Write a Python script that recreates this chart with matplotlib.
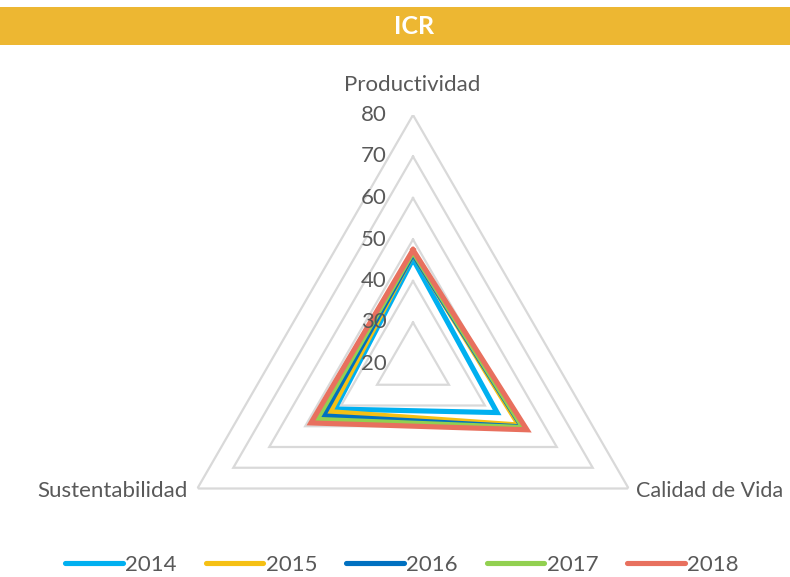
import numpy as np
import matplotlib
matplotlib.use("Agg")
import matplotlib.pyplot as plt
from matplotlib.patches import Rectangle

categories = ["Productividad", "Calidad de Vida", "Sustentabilidad"]
years = ["2014", "2015", "2016", "2017", "2018"]
v2014 = [45.3, 43.4, 41.7]
v2015 = [46.5, 49.4, 43.0]
v2016 = [46.5, 50.3, 45.0]
v2017 = [47.0, 50.6, 46.7]
v2018 = [47.5, 51.7, 48.4]
series = [v2014, v2015, v2016, v2017, v2018]
colors = ["#00B0F0", "#F5C014", "#0070C0", "#92D050", "#E8705E"]
grid_levels = [20, 30, 40, 50, 60, 70, 80]
title = "ICR"

plt.rcParams['font.family'] = ['Lato', 'DejaVu Sans']
txt = "#595959"
fs = 16

fig = plt.figure(figsize=(7.9, 5.77), dpi=100)
fig.patch.set_facecolor("white")

# title bar
fig.patches.append(Rectangle((0, 1 - 44.5/577), 1, 37.5/577, transform=fig.transFigure,
                             facecolor="#EDB732", edgecolor="none", zorder=0))
fig.text(414/790, 1 - 26/577, title, ha="center", va="center", color="white",
         fontsize=18, fontweight="bold")

cx, cy, R = 413, 364, 249
ax = fig.add_axes([(cx - R)/790, (577 - cy - R)/577, 2*R/790, 2*R/577], projection="polar")
ax.set_theta_offset(np.pi/2)
ax.set_theta_direction(-1)
ax.set_ylim(20, 80)
ax.grid(False)
ax.spines["polar"].set_visible(False)
ax.set_xticks([])
ax.set_yticks([])
ax.patch.set_alpha(0)

n = len(categories)
theta = np.arange(n) * 2*np.pi/n
theta_c = np.append(theta, theta[0])

for lv in grid_levels[1:]:
    ax.plot(theta_c, [lv]*(n+1), color="#D9D9D9", lw=1.6, zorder=1, solid_joinstyle="miter")

for vals, col, yr in zip(series, colors, years):
    ax.plot(theta_c, list(vals) + [vals[0]], color=col, lw=3.7, label=yr, zorder=3,
            solid_joinstyle="miter")

for lv in grid_levels:
    ax.annotate(str(lv), (0, lv), xytext=(-19, 0), textcoords="offset points",
                ha="right", va="center", color=txt, fontsize=fs, zorder=5)

# category labels
fig.text(412/790, 1 - 85/577, categories[0], ha="center", va="center", color=txt, fontsize=fs)
fig.text(636/790, 1 - 491/577, categories[1], ha="left", va="center", color=txt, fontsize=15.5)
fig.text(188/790, 1 - 491/577, categories[2], ha="right", va="center", color=txt, fontsize=fs)

leg = fig.legend(loc="center", bbox_to_anchor=(402/790, 1 - 565/577), ncol=5, frameon=False,
                 fontsize=fs, handlelength=2.6, handletextpad=0.1, columnspacing=1.3)
for t in leg.get_texts():
    t.set_color(txt)
for h in leg.get_lines():
    h.set_linewidth(3.7)
    h.set_solid_capstyle("round")

fig.savefig("out.png", dpi=100, facecolor="white")
